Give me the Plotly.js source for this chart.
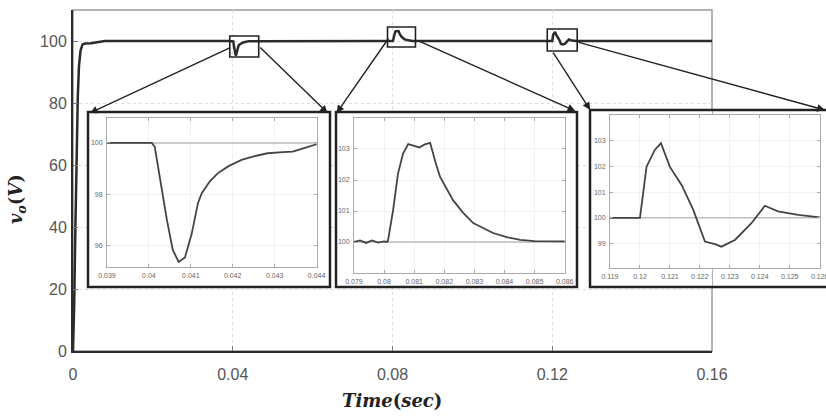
<!DOCTYPE html>
<html>
<head>
<meta charset="utf-8">
<script src="https://cdn.plot.ly/plotly-3.0.1.min.js"></script>
<style>html,body{margin:0;padding:0;background:#fff;}#chart{width:826px;height:417px;}</style>
</head>
<body>
<div id="chart"></div>
<script>
// ---- data ----
const riseTime = [0, 0.0003, 0.0006, 0.0009, 0.0012, 0.0015, 0.0019, 0.0024, 0.003, 0.0045, 0.006, 0.008];
const riseVolt = [0, 15, 40, 65, 82, 92, 97, 98.9, 99.2, 99.3, 99.7, 100];

const dip1Time = [0.039, 0.0400, 0.04007, 0.04014, 0.04026, 0.04043, 0.04057, 0.04071, 0.04086, 0.04102, 0.04117, 0.04126, 0.04145, 0.04164, 0.04190, 0.04221, 0.04250, 0.04283, 0.04320, 0.04343, 0.04370, 0.04400];
const dip1Volt = [100, 100, 100, 99.84, 98.69, 97.0, 95.84, 95.38, 95.55, 96.47, 97.66, 98.05, 98.5, 98.82, 99.1, 99.34, 99.48, 99.6, 99.64, 99.66, 99.8, 99.95];

const bump2Time = [0.079, 0.0792, 0.0794, 0.0796, 0.0798, 0.0800, 0.0801, 0.08013, 0.0803, 0.08046, 0.08063, 0.0808, 0.0810, 0.08117, 0.08135, 0.08153, 0.0817, 0.08186, 0.08229, 0.08262, 0.08296, 0.08362, 0.0841, 0.08452, 0.0850, 0.0860];
const bump2Volt = [100.0, 100.05, 99.97, 100.05, 99.98, 100.02, 100.0, 100.05, 101.03, 102.2, 102.85, 103.16, 103.1, 103.05, 103.15, 103.2, 102.6, 102.1, 101.35, 100.95, 100.61, 100.29, 100.15, 100.07, 100.03, 100.02];

const bump3Time = [0.119, 0.1200, 0.12022, 0.1205, 0.1207, 0.1210, 0.12139, 0.12178, 0.12217, 0.1225, 0.12272, 0.12317, 0.12372, 0.12417, 0.12461, 0.12528, 0.12594, 0.1260];
const bump3Volt = [100, 100, 101.99, 102.65, 102.9, 101.98, 101.28, 100.31, 99.08, 98.98, 98.88, 99.14, 99.79, 100.47, 100.25, 100.12, 100.03, 100.03];

const endTime = [0.16];
const endVolt = [100];

const refVoltage = 100;

const mainXTicks = [0, 0.04, 0.08, 0.12, 0.16];
const mainYTicks = [0, 20, 40, 60, 80, 100];
const inset1XTicks = [0.039, 0.040, 0.041, 0.042, 0.043, 0.044];
const inset2XTicks = [0.079, 0.080, 0.081, 0.082, 0.083, 0.084, 0.085, 0.086];
const inset3XTicks = [0.119, 0.120, 0.121, 0.122, 0.123, 0.124, 0.125, 0.126];
const inset1YTicks = [96, 98, 100];
const inset2YTicks = [100, 101, 102, 103];
const inset3YTicks = [99, 100, 101, 102, 103];

// ---- traces ----
const mainTime = [].concat(riseTime, dip1Time, bump2Time, bump3Time, endTime);
const mainVolt = [].concat(riseVolt, dip1Volt, bump2Volt, bump3Volt, endVolt);

const lineMain = {color: '#2b2b2b', width: 2.5};
const lineInset = {color: '#444', width: 1.8};
const lineRef = {color: '#bdbdbd', width: 1.5};
const ends = a => [a[0], a[a.length - 1]];
const refTrace = (ticks, xa, ya) => ({x: ends(ticks), y: [refVoltage, refVoltage], type: 'scatter', mode: 'lines', line: lineRef, xaxis: xa, yaxis: ya, hoverinfo: 'skip'});

const traces = [
  {x: mainTime, y: mainVolt, type: 'scatter', mode: 'lines', line: lineMain, xaxis: 'x', yaxis: 'y', hoverinfo: 'skip'},
  refTrace(inset1XTicks, 'x2', 'y2'),
  {x: dip1Time, y: dip1Volt, type: 'scatter', mode: 'lines', line: lineInset, xaxis: 'x2', yaxis: 'y2', hoverinfo: 'skip'},
  refTrace(inset2XTicks, 'x3', 'y3'),
  {x: bump2Time, y: bump2Volt, type: 'scatter', mode: 'lines', line: lineInset, xaxis: 'x3', yaxis: 'y3', hoverinfo: 'skip'},
  refTrace(inset3XTicks, 'x4', 'y4'),
  {x: bump3Time, y: bump3Volt, type: 'scatter', mode: 'lines', line: lineInset, xaxis: 'x4', yaxis: 'y4', hoverinfo: 'skip'}
];

// ---- layout ----
const insetFont = {family: 'Liberation Sans, Arial, sans-serif', size: 7, color: '#666'};
const insetAxisX = (dom, rng, anchor, tv) => ({
  domain: dom, range: rng, anchor: anchor, tickvals: tv, ticktext: tv.map(String),
  showline: true, mirror: 'ticks', linecolor: '#aaa', linewidth: 1,
  ticks: 'inside', ticklen: 3, tickcolor: '#aaa',
  showgrid: true, gridcolor: '#f2f2f2', zeroline: false,
  tickfont: insetFont, ticklabelstandoff: 2, ticklabeloverflow: 'allow'
});
const insetAxisY = (dom, rng, anchor, tv) => ({
  domain: dom, range: rng, anchor: anchor, tickvals: tv,
  showline: true, mirror: 'ticks', linecolor: '#aaa', linewidth: 1,
  ticks: 'inside', ticklen: 3, tickcolor: '#aaa',
  showgrid: true, gridcolor: '#f2f2f2', zeroline: false,
  tickfont: insetFont, ticklabelstandoff: 2, ticklabeloverflow: 'allow'
});

const frameLine = {color: '#222', width: 2.5};
const fillFrame = (x0, x1, y0, y1) => ({type: 'rect', xref: 'x', yref: 'y', x0: x0, x1: x1, y0: y0, y1: y1, fillcolor: '#fff', line: {width: 0}, layer: 'between'});
const borderFrame = (x0, x1, y0, y1) => ({type: 'rect', xref: 'paper', yref: 'paper', x0: x0, x1: x1, y0: y0, y1: y1, line: frameLine, layer: 'above'});
const zoomBox = (x0, x1, y0, y1) => ({type: 'rect', xref: 'x', yref: 'y', x0: x0, x1: x1, y0: y0, y1: y1, line: {color: '#222', width: 1.6}, layer: 'above'});

const arrow = (hx, hy, tx, ty) => ({
  xref: 'x', yref: 'y', axref: 'x', ayref: 'y', x: hx, y: hy, ax: tx, ay: ty,
  text: '', showarrow: true, arrowhead: 2, arrowsize: 1.1, arrowwidth: 1.4, arrowcolor: '#222', standoff: 0
});

const layout = {
  width: 826, height: 417,
  margin: {l: 73, r: 0, t: 10, b: 66},
  paper_bgcolor: '#fff', plot_bgcolor: '#fff',
  showlegend: false,
  font: {family: 'Liberation Sans, Arial, sans-serif', color: '#555'},
  xaxis: {
    domain: [0, 0.84861], range: [0, 0.16], tickvals: mainXTicks,
    showline: true, linecolor: '#2b2b2b', linewidth: 2,
    ticks: 'inside', ticklen: 5, tickcolor: '#777',
    showgrid: true, gridcolor: '#dcdcdc', griddash: 'dot', gridwidth: 1, zeroline: false,
    tickfont: {family: 'Liberation Sans, Arial, sans-serif', size: 16, color: '#555'},
    ticklabelstandoff: 8
  },
  yaxis: {
    domain: [0, 1], range: [0, 110], tickvals: mainYTicks,
    showline: true, linecolor: '#2b2b2b', linewidth: 2,
    ticks: 'inside', ticklen: 5, tickcolor: '#777',
    showgrid: true, gridcolor: '#dcdcdc', griddash: 'dot', gridwidth: 1, zeroline: false,
    tickfont: {family: 'Liberation Sans, Arial, sans-serif', size: 16, color: '#555'},
    ticklabelstandoff: 1
  },
  xaxis2: insetAxisX([0.04515, 0.32404], [0.039, 0.04401], 'y2', inset1XTicks),
  yaxis2: insetAxisY([0.2463, 0.6833], [95.18, 100.97], 'x2', inset1YTicks),
  xaxis3: insetAxisX([0.37317, 0.65339], [0.079, 0.08601], 'y3', inset2XTicks),
  yaxis3: insetAxisY([0.2287, 0.6833], [99.0, 104.0], 'x3', inset2YTicks),
  xaxis4: insetAxisX([0.71315, 0.99203], [0.119, 0.12601], 'y4', inset3XTicks),
  yaxis4: insetAxisY([0.2434, 0.6921], [98.05, 104.0], 'x4', inset3YTicks),
  shapes: [
    {type: 'rect', xref: 'paper', yref: 'paper', x0: 0, x1: 0.84861, y0: 0, y1: 1, line: {color: '#9a9a9a', width: 1.5}, layer: 'below'},
    fillFrame(0.00375, 0.06425, 20.65, 77.1),
    fillFrame(0.06575, 0.126, 20.65, 77.1),
    fillFrame(0.12925, 0.16, 20.65, 77.74),
    borderFrame(0.01992, 0.34130, 0.18768, 0.70088),
    borderFrame(0.34927, 0.66932, 0.18768, 0.70088),
    borderFrame(0.68659, 1.00531, 0.18768, 0.70674),
    zoomBox(0.03925, 0.0465, 94.84, 101.6),
    zoomBox(0.07875, 0.08575, 98.06, 104.5),
    zoomBox(0.11875, 0.12625, 96.77, 103.87)
  ],
  annotations: [
    arrow(0.00425, 76.77, 0.03975, 98.06),
    arrow(0.06375, 76.77, 0.0465, 98.39),
    arrow(0.066, 76.77, 0.07925, 101.29),
    arrow(0.12575, 77.42, 0.086, 100.32),
    arrow(0.1295, 77.74, 0.12, 96.77),
    arrow(0.18825, 77.74, 0.12625, 99.68),
    {xref: 'paper', yref: 'paper', x: 0.4236, y: -0.1437, xanchor: 'center', yanchor: 'middle', showarrow: false,
     text: '<b><i>Time</i>(<i>sec</i>)</b>', font: {family: 'DejaVu Serif, serif', size: 18, color: '#222'}},
    {xref: 'paper', yref: 'paper', x: -0.075, y: 0.444, xanchor: 'center', yanchor: 'middle', showarrow: false, textangle: -90,
     text: '<b><i>v</i><sub><i>o</i></sub>(<i>V</i>)</b>', font: {family: 'DejaVu Serif, serif', size: 18, color: '#222'}}
  ]
};

Plotly.newPlot('chart', traces, layout, {staticPlot: true, displayModeBar: false});
</script>
</body>
</html>
